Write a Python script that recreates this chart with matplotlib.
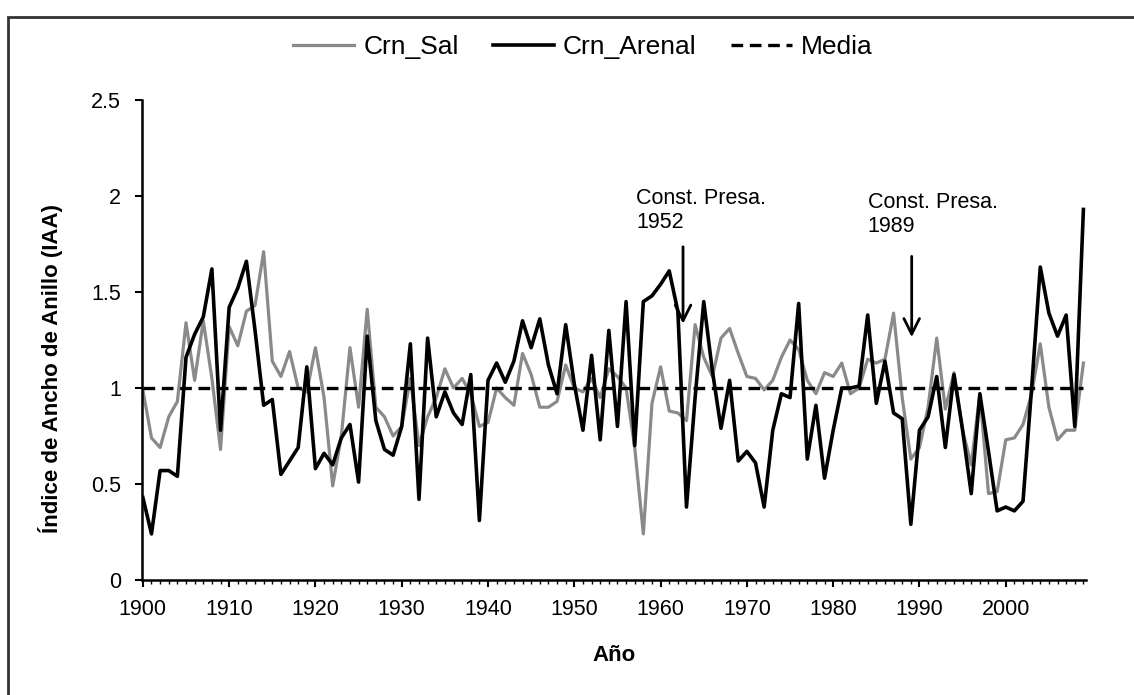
import numpy as np
import matplotlib
import matplotlib.pyplot as plt
from matplotlib.ticker import MultipleLocator, FuncFormatter
from matplotlib.patches import Rectangle

plt.rcParams['font.family'] = ['Liberation Sans', 'DejaVu Sans']

years = np.arange(1900, 2010)

crn_sal = [0.99, 0.74, 0.69, 0.85, 0.93, 1.34, 1.04, 1.35, 1.05, 0.68,
           1.32, 1.22, 1.40, 1.43, 1.71, 1.14, 1.06, 1.19, 1.00, 0.98,
           1.21, 0.95, 0.49, 0.75, 1.21, 0.90, 1.41, 0.90, 0.85, 0.75,
           0.80, 1.05, 0.70, 0.85, 0.95, 1.10, 1.00, 1.05, 0.97, 0.80,
           0.82, 1.00, 0.95, 0.91, 1.18, 1.07, 0.90, 0.90, 0.93, 1.12,
           1.00, 0.98, 1.05, 0.95, 1.10, 1.06, 1.00, 0.69, 0.24, 0.92,
           1.11, 0.88, 0.87, 0.83, 1.33, 1.16, 1.06, 1.26, 1.31, 1.18,
           1.06, 1.05, 0.99, 1.04, 1.16, 1.25, 1.20, 1.04, 0.97, 1.08,
           1.06, 1.13, 0.97, 1.00, 1.15, 1.13, 1.15, 1.39, 0.95, 0.63,
           0.69, 0.90, 1.26, 0.89, 1.08, 0.78, 0.60, 0.97, 0.45, 0.46,
           0.73, 0.74, 0.81, 0.97, 1.23, 0.90, 0.73, 0.78, 0.78, 1.13]

crn_arenal = [0.43, 0.24, 0.57, 0.57, 0.54, 1.16, 1.28, 1.37, 1.62, 0.78,
              1.42, 1.52, 1.66, 1.30, 0.91, 0.94, 0.55, 0.62, 0.69, 1.11,
              0.58, 0.66, 0.60, 0.74, 0.81, 0.51, 1.27, 0.83, 0.68, 0.65,
              0.80, 1.23, 0.42, 1.26, 0.85, 0.98, 0.87, 0.81, 1.07, 0.31,
              1.04, 1.13, 1.03, 1.14, 1.35, 1.21, 1.36, 1.12, 0.97, 1.33,
              1.02, 0.78, 1.17, 0.73, 1.30, 0.80, 1.45, 0.70, 1.45, 1.48,
              1.54, 1.61, 1.40, 0.38, 0.95, 1.45, 1.09, 0.79, 1.04, 0.62,
              0.67, 0.61, 0.38, 0.78, 0.97, 0.95, 1.44, 0.63, 0.91, 0.53,
              0.78, 1.00, 1.00, 1.01, 1.38, 0.92, 1.14, 0.87, 0.84, 0.29,
              0.78, 0.85, 1.06, 0.69, 1.07, 0.78, 0.45, 0.97, 0.67, 0.36,
              0.38, 0.36, 0.41, 1.00, 1.63, 1.39, 1.27, 1.38, 0.80, 1.93]

media = 1.0

# (text, text x, text y, arrow x, arrow top, arrow tip)
notes = [("Const. Presa.\n1952", 1957.2, 2.04, 1962.6, 1.75, 1.32),
         ("Const. Presa.\n1989", 1984.0, 2.02, 1989.1, 1.70, 1.25)]

W, H = 1134, 695
fig = plt.figure(figsize=(W / 100, H / 100), dpi=100)
fig.patches.append(Rectangle((8 / W, -0.1), 1.2, 1 - 17 / H + 0.1,
                             transform=fig.transFigure, fill=False,
                             edgecolor='#333333', linewidth=2))

ax = fig.add_axes([142 / W, 115 / H, (1086 - 142) / W, 480 / H])

ax.plot(years, crn_sal, color='#8a8a8a', lw=2.3, label='Crn_Sal')
ax.plot(years, crn_arenal, color='black', lw=2.6, label='Crn_Arenal')
ax.plot(years, [media] * len(years), color='black', lw=2.4,
        linestyle=(0, (3.5, 2)), label='Media')

ax.set_xlim(1899.9, 2009.3)
ax.set_ylim(0, 2.5)
ax.xaxis.set_major_locator(MultipleLocator(10))
ax.xaxis.set_minor_locator(MultipleLocator(1))
ax.yaxis.set_major_locator(MultipleLocator(0.5))
ax.yaxis.set_major_formatter(FuncFormatter(lambda v, p: f'{v:g}'))
ax.set_xticks([y for y in range(1900, 2010, 10)])

for s in ['top', 'right']:
    ax.spines[s].set_visible(False)
for s in ['left', 'bottom']:
    ax.spines[s].set_linewidth(1.8)
ax.tick_params(axis='both', which='major', length=5, width=1.5,
               labelsize=15.5, direction='out')
ax.tick_params(axis='x', which='minor', length=3, width=1, direction='out')
ax.tick_params(axis='x', pad=9)
ax.tick_params(axis='y', pad=10)

ax.set_xlabel('Año', fontsize=16, fontweight='bold', labelpad=18)
ax.set_ylabel('Índice de Ancho de Anillo (IAA)', fontsize=16,
              fontweight='bold')
ax.yaxis.set_label_coords(-0.084, 0.44)

for txt, tx, ty, axx, a0, a1 in notes:
    ax.text(tx, ty, txt, fontsize=15.5, va='top', ha='left', linespacing=1.15)
    ax.annotate('', xy=(axx, a1), xytext=(axx, a0),
                arrowprops=dict(arrowstyle='->', lw=2, color='black',
                                mutation_scale=28))

fig.legend(loc='center', bbox_to_anchor=(583 / W, 1 - 47 / H), ncol=3,
           frameon=False, fontsize=19, handlelength=2.3, columnspacing=1.3,
           handletextpad=0.35)

fig.savefig('out.png', dpi=100)
